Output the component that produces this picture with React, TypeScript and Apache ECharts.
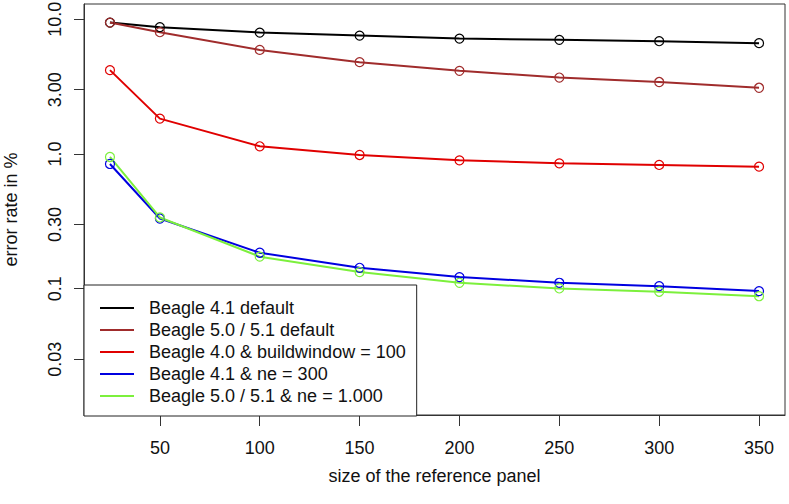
import React, { useEffect, useRef } from "react";
import * as echarts from "echarts";

const panelSizes = [25, 50, 100, 150, 200, 250, 300, 350];
const beagle41Default = [9.44, 8.73, 7.96, 7.56, 7.18, 7.03, 6.87, 6.64];
const beagle50Default = [9.44, 8.01, 5.92, 4.8, 4.14, 3.69, 3.42, 3.1];
const beagle40Buildwindow = [4.19, 1.83, 1.14, 0.983, 0.897, 0.852, 0.829, 0.805];
const beagle41Ne300 = [0.843, 0.332, 0.185, 0.143, 0.122, 0.1107, 0.1045, 0.096];
const beagle50Ne1000 = [0.95, 0.338, 0.173, 0.133, 0.1107, 0.1005, 0.095, 0.088];

const seriesNames = [
  "Beagle 4.1 default",
  "Beagle 5.0 / 5.1 default",
  "Beagle 4.0 & buildwindow = 100",
  "Beagle 4.1 & ne = 300",
  "Beagle 5.0 / 5.1 & ne = 1.000",
];
const seriesValues = [beagle41Default, beagle50Default, beagle40Buildwindow, beagle41Ne300, beagle50Ne1000];
const seriesColors = ["#000000", "#a02c2c", "#e00000", "#0000e0", "#7cf03c"];

const xTickValues = [50, 100, 150, 200, 250, 300, 350];
const yTickValues = [0.03, 0.1, 0.3, 1, 3, 10];
const yTickLabels = ["0.03", "0.1", "0.30", "1.0", "3.00", "10.0"];

const FONT = "'Liberation Sans', Arial, sans-serif";

export default function App() {
  const ref = useRef<HTMLDivElement>(null);
  useEffect(() => {
    if (!ref.current) return;
    const chart = echarts.init(ref.current, undefined, { renderer: "svg" });
    const series = seriesNames.map((name, i) => ({
      name,
      type: "line",
      data: panelSizes.map((x, j) => [x, seriesValues[i][j]]),
      symbol: "circle",
      symbolSize: 9,
      lineStyle: { color: seriesColors[i], width: 2 },
      itemStyle: { color: "rgba(0,0,0,0)", borderColor: seriesColors[i], borderWidth: 1.2 },
      emphasis: { disabled: true },
    }));
    chart.setOption({
      animation: false,
      backgroundColor: "#ffffff",
      textStyle: { fontFamily: FONT },
      grid: {
        left: 84,
        right: 4,
        top: 4,
        bottom: 89,
        show: true,
        borderColor: "#333",
        borderWidth: 1,
        containLabel: false,
        outerBoundsMode: "none",
      },
      legend: {
        orient: "vertical",
        left: 84,
        top: 285,
        data: seriesNames.map((name, i) => ({ name, itemStyle: { color: seriesColors[i], borderWidth: 0 } })),
        icon: "rect",
        itemWidth: 34,
        itemHeight: 2,
        itemGap: 0,
        padding: [12, 11, 9, 16],
        borderColor: "#222",
        borderWidth: 1,
        borderRadius: 0,
        backgroundColor: "#ffffff",
        selectedMode: false,
        textStyle: {
          fontFamily: FONT,
          fontSize: 18,
          color: "#111",
          lineHeight: 22,
          padding: [0, 0, 0, 10],
        },
      },
      xAxis: {
        type: "value",
        min: 12,
        max: 363,
        name: "size of the reference panel",
        nameLocation: "middle",
        nameGap: 52,
        nameTextStyle: { fontFamily: FONT, fontSize: 18, color: "#111" },
        axisLine: { show: true, lineStyle: { color: "#333" } },
        axisTick: { show: true, length: 11, customValues: xTickValues, lineStyle: { color: "#333" } },
        axisLabel: {
          customValues: xTickValues,
          fontFamily: FONT,
          fontSize: 18,
          color: "#111",
          margin: 24,
        },
        splitLine: { show: false },
      },
      yAxis: {
        type: "log",
        min: 0.01156,
        max: 12.97,
        name: "error rate in %",
        nameLocation: "middle",
        nameRotate: 90,
        nameGap: 64,
        nameTextStyle: { fontFamily: FONT, fontSize: 18, color: "#111" },
        axisLine: { show: true, lineStyle: { color: "#333" } },
        axisTick: { show: true, length: 10, customValues: yTickValues, lineStyle: { color: "#333" } },
        axisLabel: {
          customValues: yTickValues,
          rotate: 90,
          fontFamily: FONT,
          fontSize: 18,
          color: "#111",
          margin: 20,
          formatter: (v: number) => {
            const idx = yTickValues.findIndex((t) => Math.abs(t - v) / t < 1e-6);
            return idx >= 0 ? yTickLabels[idx] : "";
          },
        },
        splitLine: { show: false },
      },
      series,
    });
    return () => chart.dispose();
  }, []);
  return <div ref={ref} style={{ width: 789, height: 504, position: "absolute", left: 0, top: 0 }} />;
}
